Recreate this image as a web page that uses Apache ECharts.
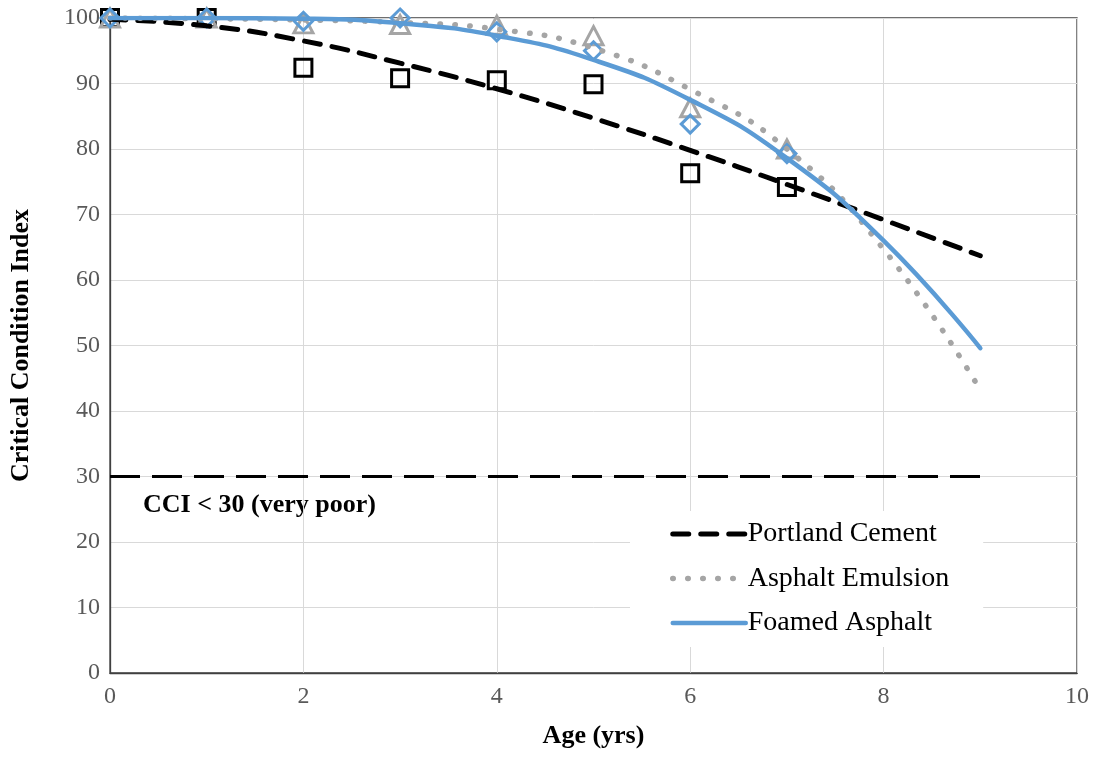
<!DOCTYPE html>
<html>
<head>
<meta charset="utf-8">
<title>Critical Condition Index vs Age</title>
<script src="https://cdn.jsdelivr.net/npm/echarts@6/dist/echarts.min.js"></script>
<style>
  html, body { margin: 0; padding: 0; background: #fff; }
  #chart { width: 1097px; height: 763px; }
</style>
</head>
<body>
<div id="chart"></div>
<script>
// Observed CCI by pavement age (years)
const ages = [0, 1, 2, 3, 4, 5, 6, 7];
const portlandObs = [100, 100, 92.4, 90.8, 90.5, 89.9, 76.3, 74.2];
const emulsionObs = [100, 100, 99.1, 99.0, 98.9, 97.3, 86.3, 80.0];
const foamedObs   = [100, 100, 99.5, 100, 97.9, 95.0, 83.8, 79.3];

// Trend curves, ages 0..9
const trendAges = [0, 1, 2, 3, 4, 5, 6, 7, 8, 9];
const portlandTrend = [99.8, 98.8, 96.5, 93.1, 89.2, 84.7, 79.8, 74.6, 69.2, 63.7];
const emulsionTrend = [100, 99.9, 99.7, 99.3, 98.3, 95.4, 89.1, 80.0, 64.7, 43.2];
const foamedTrend   = [100, 100, 99.9, 99.2, 97.3, 93.6, 87.5, 78.6, 66.0, 49.6];

// "Very poor" threshold
const thresholdAges = [0, 9];
const thresholdCCI = 30;

const xTicks = [0, 2, 4, 6, 8, 10];

const pairs = (xs, ys) => xs.map((x, i) => [x, ys[i]]);

const serif = '"Liberation Serif", "Times New Roman", serif';
const colors = { portland: '#000000', emulsion: '#a5a5a5', foamed: '#5b9bd5' };

const styles = {
  portland: { color: colors.portland, width: 5, type: [16, 12], cap: 'round' },
  emulsion: { color: colors.emulsion, width: 5.5, type: [0.5, 14.5], cap: 'round' },
  foamed:   { color: colors.foamed, width: 4.5, type: 'solid', cap: 'round' }
};

const markerStyle = c => ({ color: 'rgba(255,255,255,0)', borderColor: c, borderWidth: 3, opacity: 1 });

const chart = echarts.init(document.getElementById('chart'), null, { renderer: 'canvas' });

chart.setOption({
  backgroundColor: '#ffffff',
  animation: false,
  grid: {
    left: 110, right: 20, top: 18, bottom: 90,
    show: true, borderColor: '#404040', borderWidth: 1.3
  },
  xAxis: {
    type: 'value', min: 0, max: 10, interval: 2,
    name: 'Age (yrs)', nameLocation: 'middle', nameGap: 50,
    nameTextStyle: { fontFamily: serif, fontWeight: 'bold', fontSize: 26, color: '#000' },
    axisLine: { lineStyle: { color: '#404040', width: 1.3 } },
    axisTick: { show: false },
    axisLabel: {
      fontFamily: serif, fontSize: 24, color: '#595959', margin: 12,
      formatter: v => xTicks.includes(v) ? String(v) : ''
    },
    splitLine: { show: true, lineStyle: { color: '#d9d9d9', width: 1 } }
  },
  yAxis: {
    type: 'value', min: 0, max: 100, interval: 10,
    name: 'Critical Condition Index', nameLocation: 'middle', nameGap: 76,
    nameTextStyle: { fontFamily: serif, fontWeight: 'bold', fontSize: 26, color: '#000' },
    axisLine: { show: true, lineStyle: { color: '#404040', width: 1.3 } },
    axisTick: { show: false },
    axisLabel: { fontFamily: serif, fontSize: 24, color: '#595959', margin: 10 },
    splitLine: { show: true, lineStyle: { color: '#d9d9d9', width: 1 } }
  },
  legend: {
    data: [
      { name: 'Portland Cement', itemStyle: { opacity: 0 }, lineStyle: styles.portland },
      { name: 'Asphalt Emulsion', itemStyle: { opacity: 0 }, lineStyle: styles.emulsion },
      { name: 'Foamed Asphalt', itemStyle: { opacity: 0 }, lineStyle: styles.foamed }
    ],
    orient: 'vertical',
    left: 630, top: 511,
    backgroundColor: '#ffffff',
    padding: [9, 34, 10, 40],
    itemGap: 16.5,
    itemWidth: 73, itemHeight: 14,
    textStyle: { fontFamily: serif, fontSize: 28, color: '#000', padding: [0, 0, 0, -3] },
    selectedMode: false
  },
  graphic: [{
    type: 'text',
    left: 143, top: 492,
    style: {
      text: 'CCI < 30 (very poor)',
      font: 'bold 26px ' + serif,
      fill: '#000'
    }
  }],
  series: [
    {
      name: 'Threshold', type: 'line',
      data: thresholdAges.map(x => [x, thresholdCCI]),
      symbol: 'none', silent: true, z: 1,
      lineStyle: { color: '#000', width: 3, type: [30, 12], cap: 'butt' }
    },
    {
      name: 'Portland Cement obs', type: 'scatter',
      data: pairs(ages, portlandObs),
      symbol: 'rect', symbolSize: 17, z: 3,
      itemStyle: markerStyle(colors.portland)
    },
    {
      name: 'Asphalt Emulsion obs', type: 'scatter',
      data: pairs(ages, emulsionObs),
      symbol: 'triangle', symbolSize: [19, 18], z: 3,
      itemStyle: markerStyle(colors.emulsion)
    },
    {
      name: 'Foamed Asphalt obs', type: 'scatter',
      data: pairs(ages, foamedObs),
      symbol: 'diamond', symbolSize: [18, 18], z: 3,
      itemStyle: markerStyle(colors.foamed)
    },
    {
      name: 'Portland Cement', type: 'line',
      data: pairs(trendAges, portlandTrend),
      smooth: true, symbol: 'none', z: 4,
      itemStyle: { color: colors.portland },
      lineStyle: styles.portland
    },
    {
      name: 'Asphalt Emulsion', type: 'line',
      data: pairs(trendAges, emulsionTrend),
      smooth: true, symbol: 'none', z: 4,
      itemStyle: { color: colors.emulsion },
      lineStyle: styles.emulsion
    },
    {
      name: 'Foamed Asphalt', type: 'line',
      data: pairs(trendAges, foamedTrend),
      smooth: true, symbol: 'none', z: 4,
      itemStyle: { color: colors.foamed },
      lineStyle: styles.foamed
    }
  ]
});
</script>
</body>
</html>
